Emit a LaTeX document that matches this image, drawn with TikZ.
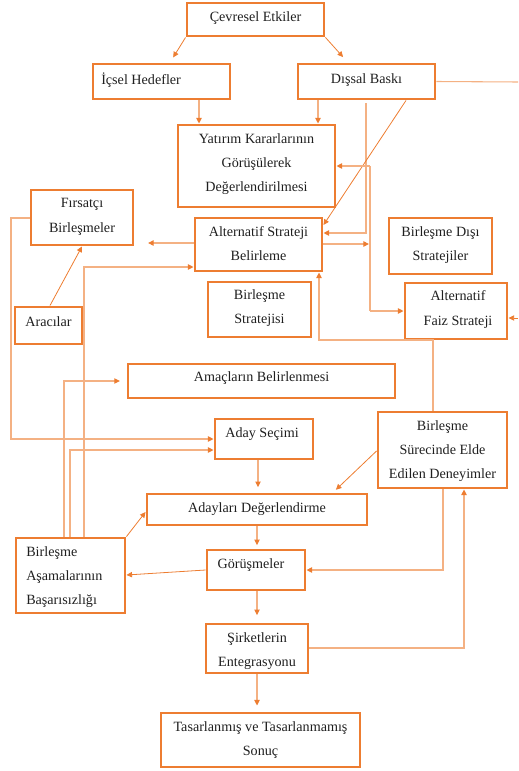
\documentclass[tikz,border=0pt]{standalone}
\usepackage{fontspec}
\setmainfont{Liberation Serif}
\usetikzlibrary{arrows.meta,fit}
\definecolor{orD}{HTML}{ED7D31}
\definecolor{orL}{HTML}{F4B183}
\definecolor{ink}{HTML}{1F1F1F}
\newcommand{\flowbox}[5]{\node[box, fit={(#2,#3) (#4,#5)}] (#1) {};}
\begin{document}
\begin{tikzpicture}[x=0.75pt,y=-0.75pt,
  box/.style={draw=orD, line width=2.2pt, inner sep=0pt},
  txt/.style={text=ink, font=\fontsize{10.6}{18.2}\selectfont, align=center, inner sep=0pt},
  tip/.style={-{Triangle[length=4.2pt,width=4pt,color=orD]}},
  conL/.style={draw=orL, line width=0.8pt, tip},
  conD/.style={draw=orD, line width=0.6pt, tip},
  lineL/.style={draw=orL, line width=0.8pt},
]
\useasboundingbox (0,0) rectangle (518,771);

% boxes
\flowbox{cev}{187}{3}{324}{36}
\flowbox{ice}{93}{64}{230}{99}
\flowbox{dis}{298}{64}{435}{99}
\flowbox{yat}{178}{125}{335}{207}
\flowbox{fir}{31}{190}{133}{245}
\flowbox{alt}{195}{218}{322}{271}
\flowbox{bdis}{389}{218}{492}{274}
\flowbox{ara}{15}{307}{82}{344}
\flowbox{bstr}{208}{282}{311}{337}
\flowbox{faiz}{405}{283}{507}{339}
\flowbox{ama}{128}{364}{395}{398}
\flowbox{aday}{215}{419}{313}{459}
\flowbox{bsur}{378}{412}{507}{488}
\flowbox{adl}{147}{494}{367}{525}
\flowbox{bas}{16}{538}{125}{613}
\flowbox{gor}{207}{550}{305}{590}
\flowbox{sir}{206}{624}{308}{673}
\flowbox{tas}{161}{713}{360}{767}

% labels
\node[txt] (cev-t) at (255.5,18) {Çevresel Etkiler};
\node[txt, anchor=west] (ice-t) at (101,80) {İçsel Hedefler};
\node[txt] (dis-t) at (366.5,80) {Dışsal Baskı};
\node[txt] (yat-t) at (256.5,164) {Yatırım Kararlarının\\Görüşülerek\\Değerlendirilmesi};
\node[txt] (fir-t) at (82,217) {Fırsatçı\\Birleşmeler};
\node[txt] (alt-t) at (258.5,243.5) {Alternatif Strateji\\Belirleme};
\node[txt] (bdis-t) at (440.5,245) {Birleşme Dışı\\Stratejiler};
\node[txt] (ara-t) at (48.5,322) {Aracılar};
\node[txt] (bstr-t) at (259.5,308) {Birleşme\\Stratejisi};
\node[txt] (faiz-t) at (458,309.5) {Alternatif\\Faiz Strateji};
\node[txt] (ama-t) at (261.5,378) {Amaçların Belirlenmesi};
\node[txt] (aday-t) at (262,434) {Aday Seçimi};
\node[txt] (bsur-t) at (442.5,451) {Birleşme\\Sürecinde Elde\\Edilen Deneyimler};
\node[txt] (adl-t) at (257,509.5) {Adayları Değerlendirme};
\node[txt, anchor=west, align=left] (bas-t) at (26,577) {Birleşme\\Aşamalarının\\Başarısızlığı};
\node[txt] (gor-t) at (251,565) {Görüşmeler};
\node[txt] (sir-t) at (257,651) {Şirketlerin\\Entegrasyonu};
\node[txt] (tas-t) at (260.5,740) {Tasarlanmış ve Tasarlanmamış\\Sonuç};

% loose ends at the right margin and open arrow ends
\coordinate (rimA) at (518,82);
\coordinate (rimB) at (518,318);
\coordinate (busT) at (370,166);
\coordinate (busB) at (370,311);
\coordinate (busM) at (369,244);
\coordinate (leftA) at (148,243);

% top level
\draw[conD, shorten >=4.5pt] (cev.south west) -- (ice.north -| 170,0);
\draw[conD, shorten >=5.5pt] (cev.south east) -- (dis.north -| 348,0);
\draw[conL] (ice.south -| 199,0) -- (yat.north -| 199,0);
\draw[conL] (dis.south -| 318,0) -- (yat.north -| 318,0);
\draw[lineL] (dis.east) -- (rimA);
\draw[conL, shorten <=2pt] (dis.south -| 366,0) |- (alt.east |- 0,233);
\draw[conD] (dis.south -| 406,0) -- (alt.east |- 0,225);

% strategy bus on the right
\draw[lineL] (busT) -- (busB);
\draw[conL] (busT) -- (yat.east |- busT);
\draw[conL] (busB) -- (faiz.west |- busB);
\draw[conL] (alt.east |- 0,244) -- (busM);
\draw[conD] (rimB) -- (faiz.east |- rimB);

% left side
\draw[conL] (alt.west |- leftA) -- (leftA);
\draw[conL] (fir.west |- 0,218) -- (11,218) |- (aday.west |- 0,439);
\draw[conD] (ara.north -| 50,0) -- (fir.south -| 82,0);
\draw[conL] (bas.north -| 84,0) |- (alt.west |- 0,267);
\draw[conL, shorten >=5pt] (bas.north -| 64,0) |- (ama.west |- 0,381);
\draw[conL] (bas.north -| 70,0) |- (aday.west |- 0,450);

% feedback from experience
\draw[conL] (bsur.north -| 433,0) -- (433,340) -| (alt.south -| 319,0);
\draw[conD, shorten >=3pt] (bsur.west |- 0,451) -- (adl.north -| 333,0);
\draw[conL] (bsur.south -| 443,0) |- (gor.east |- 0,570);
\draw[conL] (sir.east |- 0,648) -| (bsur.south -| 464,0);

% main sequence
\draw[conL, shorten >=4pt] (aday.south -| 258,0) -- (adl.north -| 258,0);
\draw[conD] (bas.north east) -- (adl.west |- 0,512);
\draw[conL, shorten >=2.5pt] (adl.south -| 257,0) -- (gor.north -| 257,0);
\draw[conD] (gor.west |- 0,570) -- (bas.east |- 0,575);
\draw[conL, shorten >=5.5pt] (gor.south -| 257,0) -- (sir.north -| 257,0);
\draw[conL, shorten >=4.5pt] (sir.south -| 257,0) -- (tas.north -| 257,0);
\end{tikzpicture}
\end{document}
